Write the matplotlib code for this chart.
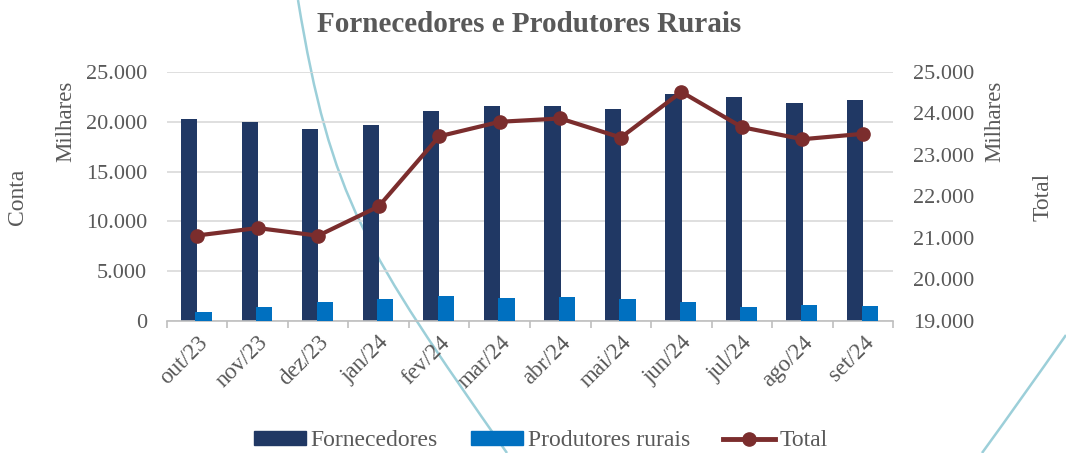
import numpy as np
import matplotlib
matplotlib.use('Agg')
import matplotlib.pyplot as plt
import matplotlib.patches as mpatches
from matplotlib.path import Path
from matplotlib.lines import Line2D
from matplotlib.ticker import FuncFormatter, FixedLocator

# ── Data (milhares) ──────────────────────────────────────────────────────────
meses        = ['out/23', 'nov/23', 'dez/23', 'jan/24', 'fev/24', 'mar/24',
                'abr/24', 'mai/24', 'jun/24', 'jul/24', 'ago/24', 'set/24']
fornecedores = [20300, 20000, 19300, 19700, 21100, 21600,
                21550, 21300, 22750, 22450, 21900, 22150]
produtores   = [870, 1380, 1900, 2180, 2480, 2310,
                2440, 2210, 1880, 1400, 1570, 1470]
total        = [21060, 21240, 21055, 21760, 23450, 23800,
                23880, 23420, 24520, 23670, 23380, 23510]

C_FORN  = '#203864'
C_PROD  = '#0070C0'
C_TOTAL = '#7B2D2D'
C_TEXT  = '#595959'
C_GRID  = '#D9D9D9'
C_DECO  = '#9CCFD9'

plt.rcParams['font.family'] = ['Liberation Serif', 'DejaVu Serif']

fmt = FuncFormatter(lambda v, _: f'{v:,.0f}'.replace(',', '.'))

fig = plt.figure(figsize=(10.66, 4.53), dpi=100)

# ── Decorative background curves (pixel coords, not data) ────────────────────
bg = fig.add_axes([0, 0, 1, 1], zorder=-1)
bg.set_xlim(0, 1066); bg.set_ylim(453, 0); bg.axis('off')
deco1 = Path([(298, 0), (331, 200), (365, 250), (507, 453)],
             [Path.MOVETO, Path.CURVE4, Path.CURVE4, Path.CURVE4])
deco2 = Path([(982, 453), (1022, 398), (1066, 335)],
             [Path.MOVETO, Path.CURVE3, Path.CURVE3])
for p in (deco1, deco2):
    bg.add_patch(mpatches.PathPatch(p, fill=False, edgecolor=C_DECO, lw=1.8))

# ── Main axes ─────────────────────────────────────────────────────────────────
ax = fig.add_axes([0.1564, 0.2914, 0.6816, 0.5497])
ax.set_facecolor('none')
x = np.arange(len(meses))
w = 0.27
ax.bar(x - 0.13, fornecedores, w, color=C_FORN, zorder=2)
ax.bar(x + 0.11, produtores, w, color=C_PROD, zorder=3)
ax.set_xlim(-0.5, len(meses) - 0.5)
ax.set_ylim(0, 25000)
ax.set_yticks(np.arange(0, 25001, 5000))
ax.yaxis.set_major_formatter(fmt)
ax.grid(axis='y', color=C_GRID, lw=1.2, zorder=0)
ax.set_axisbelow(True)
for s in ['top', 'left', 'right']:
    ax.spines[s].set_visible(False)
ax.spines['bottom'].set_color('#BFBFBF')
ax.spines['bottom'].set_linewidth(1.2)
ax.tick_params(axis='y', length=0, pad=14, labelsize=16, labelcolor=C_TEXT)
ax.set_xticks(x)
ax.set_xticklabels(meses, rotation=45, ha='right', rotation_mode='anchor',
                   fontsize=16.5, color=C_TEXT)
ax.tick_params(axis='x', which='major', length=0, pad=8)
ax.xaxis.set_minor_locator(FixedLocator(np.arange(-0.5, len(meses), 1)))
ax.tick_params(axis='x', which='minor', length=5, color='#BFBFBF', width=1.2)

# ── Secondary axis: Total ────────────────────────────────────────────────────
ax2 = ax.twinx()
ax2.plot(x, total, color=C_TOTAL, lw=3, marker='o', ms=9.5, zorder=5)
ax2.set_ylim(19000, 25000)
ax2.set_yticks(np.arange(19000, 25001, 1000))
ax2.yaxis.set_major_formatter(fmt)
for s in ax2.spines.values():
    s.set_visible(False)
ax2.tick_params(axis='y', length=0, pad=14, labelsize=16, labelcolor=C_TEXT)

# ── Texts ─────────────────────────────────────────────────────────────────────
fig.text(529 / 1066, 1 - 24 / 453, 'Fornecedores e Produtores Rurais',
         ha='center', va='center', fontsize=21, fontweight='bold', color=C_TEXT)
fig.text(66 / 1066, 1 - 121 / 453, 'Milhares', rotation=90, ha='center',
         va='center', fontsize=16.5, color=C_TEXT)
fig.text(17 / 1066, 1 - 197 / 453, 'Conta', rotation=90, ha='center',
         va='center', fontsize=17, color=C_TEXT)
fig.text(995 / 1066, 1 - 121 / 453, 'Milhares', rotation=90, ha='center',
         va='center', fontsize=16.5, color=C_TEXT)
fig.text(1043 / 1066, 1 - 197 / 453, 'Total', rotation=90, ha='center',
         va='center', fontsize=17, color=C_TEXT)

# ── Legend ────────────────────────────────────────────────────────────────────
handles = [mpatches.Patch(color=C_FORN, label='Fornecedores'),
           mpatches.Patch(color=C_PROD, label='Produtores rurais'),
           Line2D([], [], color=C_TOTAL, lw=3.5, marker='o', ms=9.5, label='Total')]
leg = fig.legend(handles=handles, loc='center', bbox_to_anchor=(541 / 1066, 1 - 441 / 453),
                 ncol=3, frameon=False, fontsize=17, handlelength=2.2,
                 handleheight=0.55, handletextpad=0.2, columnspacing=1.4)
for t in leg.get_texts():
    t.set_color(C_TEXT)

fig.savefig('out.png', dpi=100)
